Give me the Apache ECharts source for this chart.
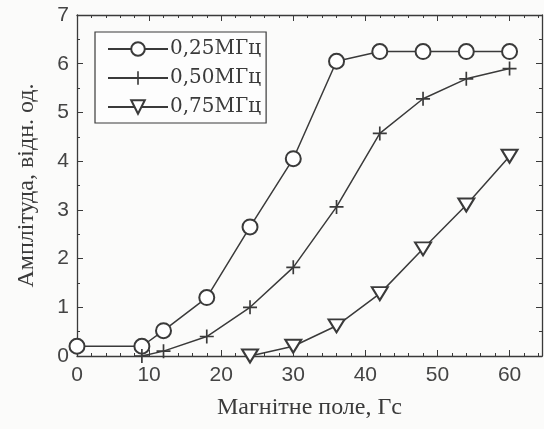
<!DOCTYPE html>
<html>
<head>
<meta charset="utf-8">
<style>
  html, body { margin: 0; padding: 0; background: #fbfbfa; }
  #chart { width: 544px; height: 429px; }
</style>
<script src="https://cdn.jsdelivr.net/npm/echarts@6/dist/echarts.min.js"></script>
</head>
<body>
<div id="chart"></div>
<script>
// magnetic field, Гс
let field = [0, 9, 12, 18, 24, 30, 36, 42, 48, 54, 60];
// amplitude for the three frequencies
let amp025 = [0.2, 0.2, 0.52, 1.2, 2.65, 4.05, 6.05, 6.25, 6.25, 6.25, 6.25];
let amp050 = [null, 0.0, 0.1, 0.4, 1.0, 1.82, 3.06, 4.57, 5.28, 5.69, 5.9];
let amp075 = [null, null, null, null, 0.0, 0.2, 0.62, 1.28, 2.2, 3.1, 4.1];
let seriesNames = ['0,25МГц', '0,50МГц', '0,75МГц'];

function pairs(ys) {
  let out = [];
  for (let i = 0; i < field.length; i++) {
    if (ys[i] !== null) out.push([field[i], ys[i]]);
  }
  return out;
}

let ink = '#3a3a3a';
let plus = 'path://M4.4,0 H5.6 V4.4 H10 V5.6 H5.6 V10 H4.4 V5.6 H0 V4.4 H4.4 Z';

let myChart = echarts.init(document.getElementById('chart'));

let axisCommon = {
  axisLine: { show: true, onZero: false, lineStyle: { color: ink, width: 1.3 } },
  axisTick: { show: true, inside: true, length: 6, lineStyle: { color: ink, width: 1 } },
  splitLine: { show: false }
};
let xMinor = { minorTick: { show: true, splitNumber: 5, length: 3, lineStyle: { color: ink } } };
let yMinor = { minorTick: { show: true, splitNumber: 2, length: 3, lineStyle: { color: ink } } };

let option = {
  backgroundColor: '#fbfbfa',
  animation: false,
  grid: { left: 77, right: 2, top: 15, bottom: 73, outerBoundsMode: 'none', containLabel: false },
  legend: {
    left: 95, top: 32,
    orient: 'vertical',
    data: seriesNames,
    backgroundColor: '#fdfdfd',
    borderColor: ink,
    borderWidth: 1.2,
    padding: [7, 5, 6, 12],
    itemGap: 9,
    itemWidth: 60,
    itemHeight: 17,
    textStyle: { fontFamily: 'DejaVu Serif', fontSize: 20, color: ink, padding: [0, 0, 0, -3] }
  },
  xAxis: [
    Object.assign({
      type: 'value', min: 0, max: 64.5, interval: 10,
      name: 'Магнітне поле, Гс', nameLocation: 'middle', nameGap: 40,
      nameTextStyle: { fontFamily: 'Liberation Serif', fontSize: 24, color: ink },
      axisLabel: { fontFamily: 'Liberation Sans', fontSize: 21, color: '#444', margin: 9, showMaxLabel: false }
    }, axisCommon, xMinor),
    Object.assign({
      type: 'value', min: 0, max: 64.5, interval: 10, position: 'top',
      axisLabel: { show: false }
    }, axisCommon, xMinor)
  ],
  yAxis: [
    Object.assign({
      type: 'value', min: 0, max: 7, interval: 1,
      name: 'Амплітуда, відн. од.', nameLocation: 'middle', nameGap: 38,
      nameTextStyle: { fontFamily: 'Liberation Serif', fontSize: 24, color: ink },
      axisLabel: { fontFamily: 'Liberation Sans', fontSize: 21, color: '#444', margin: 8 }
    }, axisCommon, yMinor),
    Object.assign({
      type: 'value', min: 0, max: 7, interval: 1, position: 'right',
      axisLabel: { show: false }
    }, axisCommon, yMinor)
  ],
  series: [
    {
      name: seriesNames[0], type: 'line', data: pairs(amp025),
      symbol: 'emptyCircle', symbolSize: 15,
      itemStyle: { color: ink, borderWidth: 1.5 },
      lineStyle: { color: ink, width: 1.5 }
    },
    {
      name: seriesNames[1], type: 'line', data: pairs(amp050),
      symbol: plus, symbolSize: 14,
      itemStyle: { color: ink },
      lineStyle: { color: ink, width: 1.5 }
    },
    {
      name: seriesNames[2], type: 'line', data: pairs(amp075),
      symbol: 'emptyTriangle', symbolSize: [16, 13], symbolRotate: 180,
      itemStyle: { color: ink, borderWidth: 1.5 },
      lineStyle: { color: ink, width: 1.5 }
    }
  ]
};
myChart.setOption(option);
</script>
</body>
</html>
